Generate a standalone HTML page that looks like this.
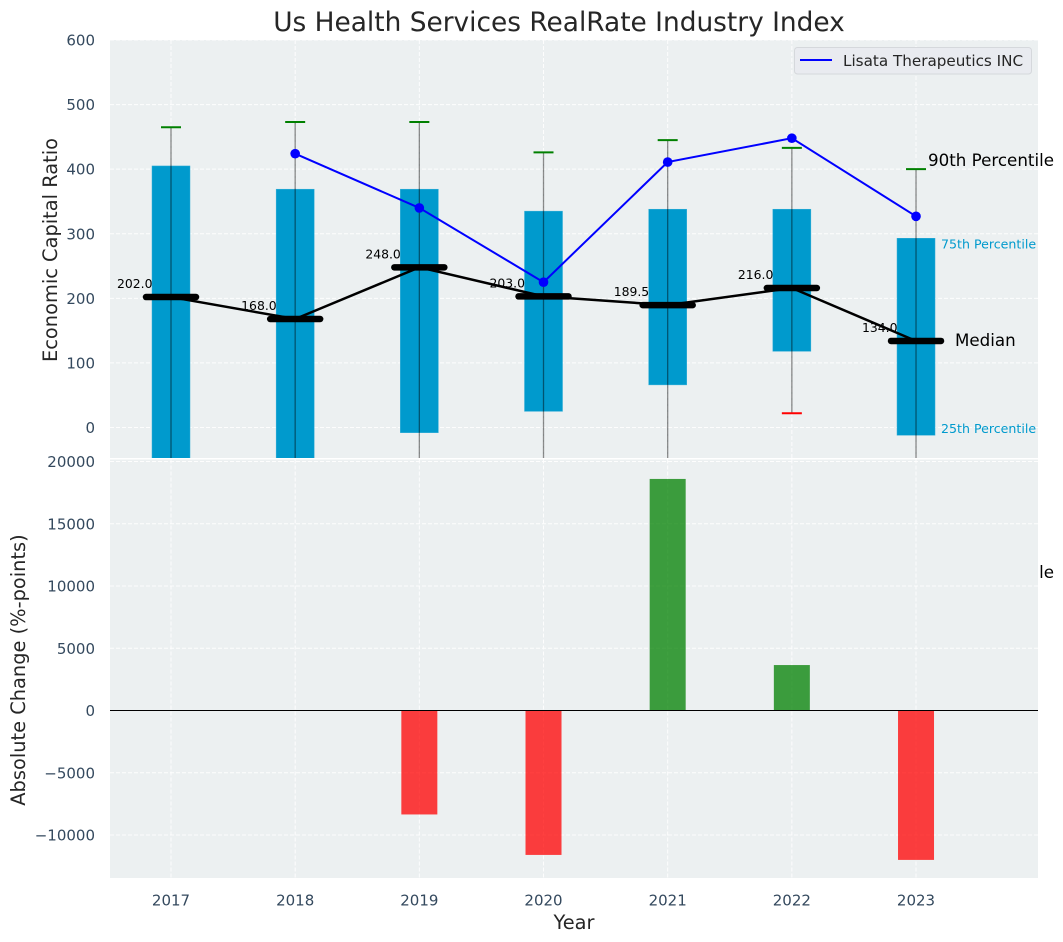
<!DOCTYPE html>
<html>
<head>
<meta charset="utf-8">
<title>Us Health Services RealRate Industry Index</title>
<style>
html,body{margin:0;padding:0;background:#fff;width:1063px;height:942px;overflow:hidden}
svg{display:block;font-family:"DejaVu Sans","Liberation Sans",sans-serif}
</style>
</head>
<body>
<svg id="chart" width="1063" height="942" viewBox="0 0 1063 942" xmlns="http://www.w3.org/2000/svg">
<defs>
<clipPath id="clip-top"><rect x="110" y="40" width="928" height="418"/></clipPath>
<clipPath id="clip-bottom"><rect x="110" y="459.5" width="928" height="418.5"/></clipPath>
</defs>
</svg>
<script>
const years = [2017, 2018, 2019, 2020, 2021, 2022, 2023];
const q75 = [405, 369, 369, 335, 338, 338, 293];
const q25 = [-70, -60, -8, 25, 66, 118, -12];
const p90 = [465, 473, 473, 426, 445, 433, 400];
const p10 = [-150, -150, -150, -150, -150, 22, -150];
const medians = [202, 168, 248, 203, 189.5, 216, 134];
const medianLabels = ['202.0', '168.0', '248.0', '203.0', '189.5', '216.0', '134.0'];
const companyYears = [2018, 2019, 2020, 2021, 2022, 2023];
const companyValues = [424, 340, 225, 411, 448, 327];
const changeYears = [2019, 2020, 2021, 2022, 2023];
const changeValues = [-8350, -11600, 18600, 3650, -12000];
const topTicks = [0, 100, 200, 300, 400, 500, 600];
const bottomTicks = [-10000, -5000, 0, 5000, 10000, 15000, 20000];

const svg = document.getElementById('chart');
const NS = 'http://www.w3.org/2000/svg';
const sx = v => 171 + (v - 2017) * 124.17;
const syTop = v => 427.5 - v * 0.6458;
const syBottom = v => 710.5 - v * 0.01245;

function mk(tag, attrs, parent) {
  const el = document.createElementNS(NS, tag);
  for (const k in attrs) el.setAttribute(k, attrs[k]);
  (parent || svg).appendChild(el);
  return el;
}
function txt(str, attrs, parent) {
  const el = mk('text', attrs, parent);
  el.textContent = str;
  return el;
}

/* title */
const title = txt('Us Health Services RealRate Industry Index', {x: 559, y: 31, 'font-size': 26.4, fill: '#262626', 'text-anchor': 'middle'});



/* hidden-behind label: only its tail pokes out past the lower panel */
const p10Label = txt('10th Percentile', {x: 928, y: 578, 'font-size': 16.7, fill: '#000'});



/* panels */
const topPanel = mk('rect', {x: 110, y: 40, width: 928, height: 418, fill: '#ecf0f1'});


const bottomPanel = mk('rect', {x: 110, y: 459.5, width: 928, height: 418.5, fill: '#ecf0f1'});



/* grids */
const grid = mk('g', {stroke: '#fff', 'stroke-width': 1, 'stroke-dasharray': '4 2', opacity: 0.9});


years.forEach(y => {
  const a = mk('line', {x1: sx(y), x2: sx(y), y1: 40, y2: 458}, grid);
  
  
  const b = mk('line', {x1: sx(y), x2: sx(y), y1: 459.5, y2: 878}, grid);
  
  
});
topTicks.forEach(t => {
  const l = mk('line', {x1: 110, x2: 1038, y1: syTop(t), y2: syTop(t)}, grid);
  
  
  const s = txt(String(t), {x: 95, y: syTop(t) + 5.5, 'font-size': 15, fill: '#34495e', 'text-anchor': 'end'});
  
  
});
bottomTicks.forEach(t => {
  const l = mk('line', {x1: 110, x2: 1038, y1: syBottom(t), y2: syBottom(t)}, grid);
  
  
  const label = t < 0 ? '\u2212' + Math.abs(t) : String(t);
  const s = txt(label, {x: 95, y: syBottom(t) + 5.5, 'font-size': 15, fill: '#34495e', 'text-anchor': 'end'});
  
  
});
years.forEach(y => {
  const s = txt(String(y), {x: sx(y), y: 905.5, 'font-size': 15, fill: '#34495e', 'text-anchor': 'middle'});
  
  
});

/* upper panel marks */
const topG = mk('g', {'clip-path': 'url(#clip-top)'});



years.forEach((y, i) => {
  const t = syTop(q75[i]), b = syTop(q25[i]);
  const bar = mk('rect', {x: sx(y) - 19, y: t, width: 38, height: b - t, fill: '#009acd', stroke: '#33aed7', 'stroke-width': 0.5}, topG);
  
  
});
years.forEach((y, i) => {
  const w = mk('line', {x1: sx(y), x2: sx(y), y1: syTop(p90[i]), y2: syTop(p10[i]), stroke: '#000', 'stroke-opacity': 0.45, 'stroke-width': 1.3}, topG);
  
  
  const hi = mk('line', {x1: sx(y) - 10, x2: sx(y) + 10, y1: syTop(p90[i]), y2: syTop(p90[i]), stroke: '#008000', 'stroke-width': 2}, topG);
  
  
  const lo = mk('line', {x1: sx(y) - 10, x2: sx(y) + 10, y1: syTop(p10[i]), y2: syTop(p10[i]), stroke: '#ff0000', 'stroke-width': 2}, topG);
  
  
});

const medPath = mk('polyline', {points: years.map((y, i) => sx(y) + ',' + syTop(medians[i])).join(' '), fill: 'none', stroke: '#000', 'stroke-width': 2.5}, topG);


years.forEach((y, i) => {
  const m = mk('line', {x1: sx(y) - 25, x2: sx(y) + 25, y1: syTop(medians[i]), y2: syTop(medians[i]), stroke: '#000', 'stroke-width': 6.5, 'stroke-linecap': 'round'}, topG);
  
  
  const s = txt(medianLabels[i], {x: sx(y) - 18.5, y: syTop(medians[i]) - 9, 'font-size': 12.4, fill: '#000', 'text-anchor': 'end'}, topG);
  
  
});

const compLine = mk('polyline', {points: companyYears.map((y, i) => sx(y) + ',' + syTop(companyValues[i])).join(' '), fill: 'none', stroke: '#0000ff', 'stroke-width': 2}, topG);


companyYears.forEach((y, i) => {
  const c = mk('circle', {cx: sx(y), cy: syTop(companyValues[i]), r: 4.8, fill: '#0000ff'}, topG);
  
  
});

/* lower panel marks */
const botG = mk('g', {'clip-path': 'url(#clip-bottom)'});


changeYears.forEach((y, i) => {
  const v = changeValues[i];
  const top = Math.min(syBottom(v), syBottom(0));
  const h = Math.abs(syBottom(v) - syBottom(0));
  const r = mk('rect', {x: sx(y) - 18, y: top, width: 36, height: h, fill: v >= 0 ? '#008000' : '#ff0000', 'fill-opacity': 0.75}, botG);
  
  
});
const zero = mk('line', {x1: 110, x2: 1038, y1: syBottom(0), y2: syBottom(0), stroke: '#000', 'stroke-width': 1.1});



/* annotations */
const p90Label = txt('90th Percentile', {x: 928, y: 166, 'font-size': 16.7, fill: '#000'});


const medLabel = txt('Median', {x: 955, y: 346, 'font-size': 16.7, fill: '#000'});


const p75Label = txt('75th Percentile', {x: 941, y: 248.5, 'font-size': 12.6, fill: '#009acd'});


const p25Label = txt('25th Percentile', {x: 941, y: 433, 'font-size': 12.6, fill: '#009acd'});



/* axis titles */
const yTop = txt('Economic Capital Ratio', {x: 0, y: 0, 'font-size': 19.4, fill: '#262626', 'text-anchor': 'middle', transform: 'translate(57 250) rotate(-90)'});


const yBot = txt('Absolute Change (%-points)', {x: 0, y: 0, 'font-size': 19.4, fill: '#262626', 'text-anchor': 'middle', transform: 'translate(25 670) rotate(-90)'});


const xTitle = txt('Year', {x: 574, y: 929, 'font-size': 19.4, fill: '#262626', 'text-anchor': 'middle'});



/* legend */
const legend = mk('g', {});


mk('rect', {x: 794.5, y: 47.5, width: 237, height: 26.5, rx: 3, fill: '#e9ebf0', stroke: '#d5d8dc', 'stroke-width': 1}, legend);
mk('line', {x1: 800, x2: 832, y1: 60, y2: 60, stroke: '#0000ff', 'stroke-width': 2}, legend);
txt('Lisata Therapeutics INC', {x: 843, y: 66, 'font-size': 15.2, fill: '#262626'}, legend);
</script>
</body>
</html>
